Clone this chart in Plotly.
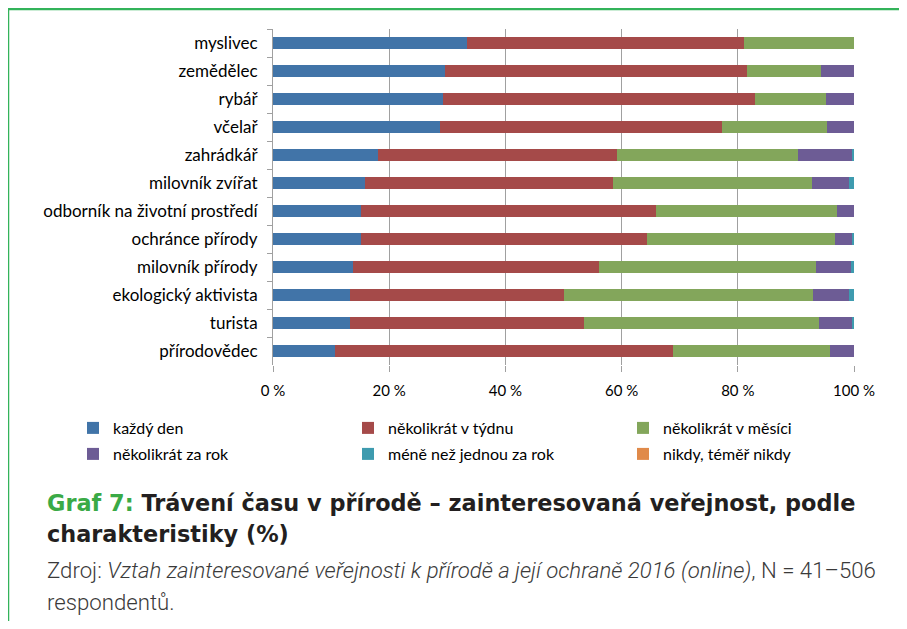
import plotly.graph_objects as go

categories = ["myslivec", "zemědělec", "rybář", "včelař", "zahrádkář", "milovník zvířat",
              "odborník na životní prostředí", "ochránce přírody", "milovník přírody",
              "ekologický aktivista", "turista", "přírodovědec"]

kazdy_den = [33.4, 29.6, 29.3, 28.8, 18.1, 15.8, 15.2, 15.1, 13.8, 13.2, 13.2, 10.7]
v_tydnu = [47.6, 52.0, 53.6, 48.4, 41.1, 42.8, 50.7, 49.2, 42.3, 36.8, 40.4, 58.2]
v_mesici = [19.0, 12.8, 12.2, 18.2, 31.1, 34.2, 31.2, 32.5, 37.3, 42.9, 40.4, 27.0]
za_rok = [0.0, 5.6, 4.9, 4.6, 9.3, 6.4, 2.9, 2.8, 6.1, 6.2, 5.7, 4.1]
mene_nez_rok = [0.0, 0.0, 0.0, 0.0, 0.4, 0.8, 0.0, 0.4, 0.5, 0.9, 0.3, 0.0]
nikdy = [0.0] * 12

series_names = ["každý den", "několikrát v týdnu", "několikrát v měsíci",
                "několikrát za rok", "méně než jednou za rok", "nikdy, téměř nikdy"]
series_values = [kazdy_den, v_tydnu, v_mesici, za_rok, mene_nez_rok, nikdy]
colors = ["#4174A8", "#A54A49", "#83A65B", "#6D5C95", "#3E9BAF", "#E08A4A"]

x_ticks = [0, 20, 40, 60, 80, 100]
x_tick_labels = ["0 %", "20 %", "40 %", "60 %", "80 %", "100 %"]

# The page body has an 8px default margin; layout is expressed in window pixels.
OFF = 8
W, H = 907 - OFF, 629 - 2 * OFF
L, R, T, B = 273, 854, 29, 365   # plot area in window pixels


def px2x(px):
    return (px - L) / (R - L)


def px2y(py):
    return (B - py) / (B - T)


fig = go.Figure()
for i, (name, vals, col) in enumerate(zip(series_names, series_values, colors)):
    fig.add_trace(go.Bar(
        y=categories, x=vals, name=name, orientation="h",
        marker=dict(color=col, line=dict(width=0)),
        legend="legend" if i < 3 else "legend2",
        hovertemplate="%{y}: %{x}%<extra>" + name + "</extra>",
    ))

label_font = dict(family="Lato, 'Noto Sans', sans-serif", size=16, color="#000000")

fig.update_layout(
    width=W, height=H,
    margin=dict(l=L - OFF, r=W + OFF - R, t=T - OFF, b=H + OFF - B, pad=0),
    paper_bgcolor="white", plot_bgcolor="white",
    barmode="stack", bargap=0.6,
    font=label_font,
    xaxis=dict(
        range=[0, 100], tickvals=x_ticks, ticktext=x_tick_labels,
        showgrid=True, gridcolor="#A0A0A0", gridwidth=1,
        ticks="outside", ticklen=6, tickcolor="#A0A0A0",
        showline=False, zeroline=False, tickfont=dict(size=15),
        ticklabelstandoff=6, fixedrange=True,
    ),
    yaxis=dict(
        categoryorder="array", categoryarray=categories, autorange="reversed",
        showline=True, linecolor="#A0A0A0", linewidth=1,
        ticks="outside", ticklen=5, tickcolor="#A0A0A0", tickson="boundaries",
        showgrid=False, ticklabelstandoff=11, tickfont=dict(size=17),
        fixedrange=True,
    ),
    legend=dict(
        orientation="h", x=px2x(73), y=px2y(428), xanchor="left", yanchor="middle",
        entrywidth=230, entrywidthmode="pixels", font=dict(size=16),
        bgcolor="rgba(0,0,0,0)", traceorder="normal",
    ),
    legend2=dict(
        orientation="h", x=px2x(73), y=px2y(454), xanchor="left", yanchor="middle",
        entrywidth=230, entrywidthmode="pixels", font=dict(size=16),
        bgcolor="rgba(0,0,0,0)", traceorder="normal",
    ),
    showlegend=True,
)

# green frame (top and left lines)
border = "#33B35A"
fig.add_shape(type="line", xref="paper", yref="paper",
              x0=px2x(8), x1=px2x(899), y0=px2y(9), y1=px2y(9),
              line=dict(color=border, width=2.5))
fig.add_shape(type="line", xref="paper", yref="paper",
              x0=px2x(8), x1=px2x(8), y0=px2y(9), y1=px2y(H + OFF),
              line=dict(color=border, width=2.5))

title_font = dict(family="'DejaVu Sans', sans-serif", size=22.4, color="#231F20", weight=700)
fig.add_annotation(
    xref="paper", yref="paper", x=px2x(45), y=px2y(503), xanchor="left", yanchor="middle",
    text="<span style='color:#3AAA46'>Graf 7:</span> Trávení času v přírodě – zainteresovaná veřejnost, podle",
    showarrow=False, font=title_font, align="left",
)
fig.add_annotation(
    xref="paper", yref="paper", x=px2x(45), y=px2y(534), xanchor="left", yanchor="middle",
    text="charakteristiky (%)",
    showarrow=False, font=title_font, align="left",
)
src_font = dict(family="Roboto, sans-serif", size=22.2, color="#3A3A3A", weight=300)
fig.add_annotation(
    xref="paper", yref="paper", x=px2x(45), y=px2y(570), xanchor="left", yanchor="middle",
    text="Zdroj: <i>Vztah zainteresované veřejnosti k přírodě a její ochraně 2016 (online)</i>, N = 41–506",
    showarrow=False, font=src_font, align="left",
)
fig.add_annotation(
    xref="paper", yref="paper", x=px2x(45), y=px2y(602), xanchor="left", yanchor="middle",
    text="respondentů.",
    showarrow=False, font=src_font, align="left",
)

fig.write_html("out.html", config={"displayModeBar": False})
